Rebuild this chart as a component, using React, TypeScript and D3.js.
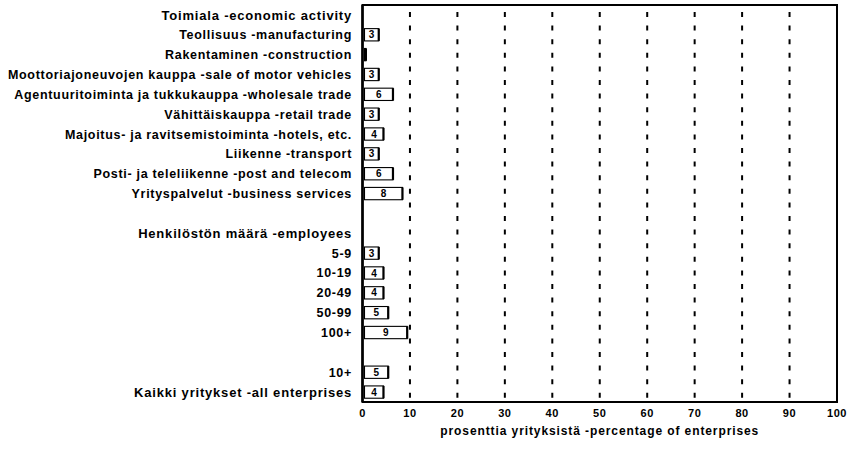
import React from "react";
import * as d3 from "d3";

const categories: string[] = [
  "Toimiala -economic activity",
  "Teollisuus -manufacturing",
  "Rakentaminen -construction",
  "Moottoriajoneuvojen kauppa -sale of motor vehicles",
  "Agentuuritoiminta ja tukkukauppa -wholesale trade",
  "Vähittäiskauppa -retail trade",
  "Majoitus- ja ravitsemistoiminta -hotels, etc.",
  "Liikenne -transport",
  "Posti- ja teleliikenne -post and telecom",
  "Yrityspalvelut -business services",
  "",
  "Henkilöstön määrä -employees",
  "5-9",
  "10-19",
  "20-49",
  "50-99",
  "100+",
  " ",
  "10+",
  "Kaikki yritykset -all enterprises",
];

const headerRows: number[] = [0, 11, 19];

// null = header / spacer row (no bar)
const values: (number | null)[] = [
  null, 3, 0.3, 3, 6, 3, 4, 3, 6, 8,
  null, null, 3, 4, 4, 5, 9, null, 5, 4,
];

const valueLabels: string[] = [
  "", "3", "", "3", "6", "3", "4", "3", "6", "8",
  "", "", "3", "4", "4", "5", "9", "", "5", "4",
];

const xTicks: number[] = [0, 10, 20, 30, 40, 50, 60, 70, 80, 90, 100];
const gridTicks: number[] = [10, 20, 30, 40, 50, 60, 70, 80, 90];
const xTitle = "prosenttia yrityksistä -percentage of enterprises";

const W = 849;
const H = 453;
const left = 362.5;
const right = 837;
const top = 5;
const bottom = 402;
const FONT = "'Liberation Sans', Arial, sans-serif";

export default function App() {
  const x = d3.scaleLinear().domain([0, 100]).range([left, right]);
  const y = d3
    .scaleBand<number>()
    .domain(categories.map((_, i) => i))
    .range([top, bottom])
    .paddingInner(0.38)
    .paddingOuter(0.19);
  const rowCenter = (i: number) => (y(i) as number) + y.bandwidth() / 2;

  return (
    <svg
      width={W}
      height={H}
      style={{ position: "absolute", left: 0, top: 0, background: "#fff" }}
      fontFamily={FONT}
    >
      <rect x={0} y={0} width={W} height={H} fill="#fff" />
      {/* grid */}
      {gridTicks.map((t) => (
        <line
          key={"g" + t}
          x1={x(t)}
          x2={x(t)}
          y1={top + 7}
          y2={bottom - 2}
          stroke="#000"
          strokeWidth={2}
          strokeDasharray="5,8.6"
        />
      ))}
      {/* frame */}
      <rect
        x={left}
        y={top}
        width={right - left}
        height={bottom - top}
        fill="none"
        stroke="#000"
        strokeWidth={2}
      />
      <line x1={left} x2={left} y1={top} y2={bottom} stroke="#000" strokeWidth={2.5} />
      {/* bars */}
      {values.map((v, i) => {
        if (v === null) return null;
        const x0 = x(0) + 2;
        const w = x(v) - x(0);
        const yy = y(i) as number;
        const h = y.bandwidth();
        return (
          <g key={"b" + i}>
            <rect x={x0} y={yy} width={w} height={h} fill="#fff" stroke="#000" strokeWidth={1.1} />
            <line x1={x0 + w} x2={x0 + w} y1={yy} y2={yy + h} stroke="#000" strokeWidth={2.2} />
            {valueLabels[i] && (
              <text
                x={x0 + w / 2}
                y={yy + h / 2}
                dy="0.36em"
                textAnchor="middle"
                fontSize={10}
                fontWeight="bold"
              >
                {valueLabels[i]}
              </text>
            )}
          </g>
        );
      })}
      {/* category labels */}
      {categories.map((c, i) => {
        const isHeader = headerRows.includes(i);
        return (
          <text
            key={"c" + i}
            x={352}
            y={rowCenter(i)}
            dy="0.36em"
            textAnchor="end"
            fontSize={isHeader ? 13 : 12.5}
            letterSpacing={isHeader ? 0.8 : 0.7}
            fontWeight="bold"
          >
            {c.trim()}
          </text>
        );
      })}
      {/* x tick labels */}
      {xTicks.map((t) => (
        <text
          key={"t" + t}
          x={x(t)}
          y={413}
          dy="0.36em"
          textAnchor="middle"
          fontSize={11}
          letterSpacing={0.6}
          fontWeight="bold"
        >
          {t}
        </text>
      ))}
      <text
        x={(left + right) / 2}
        y={431}
        dy="0.36em"
        textAnchor="middle"
        fontSize={12}
        letterSpacing={0.9}
        fontWeight="bold"
      >
        {xTitle}
      </text>
    </svg>
  );
}
